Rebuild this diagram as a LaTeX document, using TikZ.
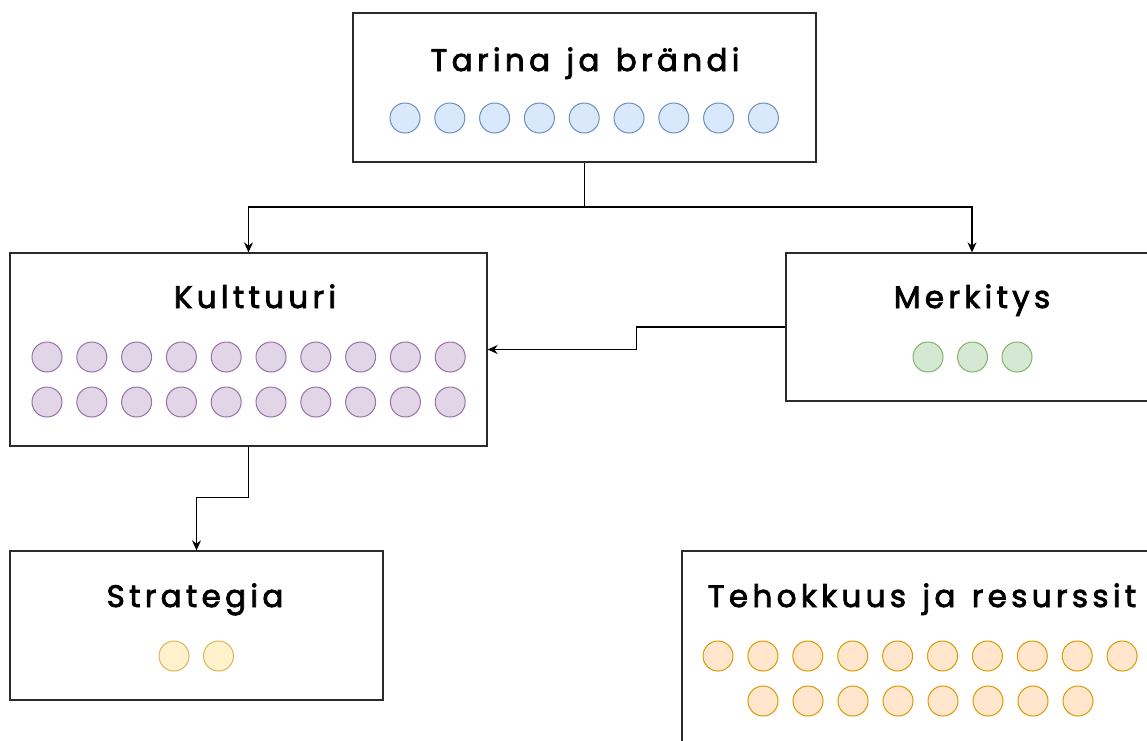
\documentclass[tikz,border=0pt]{standalone}
\usepackage{fontspec}
\setmainfont{Poppins}
\newfontfamily\ttlfont{Poppins}[LetterSpace=14,WordSpace=1.3]
% stroke + fill the glyph outlines for a medium weight
\newcommand\heavytext[1]{\special{pdf:literal direct 0.8 w 2 Tr}#1\special{pdf:literal direct 0 Tr}}
\usetikzlibrary{arrows.meta}
\definecolor{blueF}{HTML}{DAE8FC}\definecolor{blueD}{HTML}{6C8EBF}
\definecolor{purpF}{HTML}{E1D5E7}\definecolor{purpD}{HTML}{9673A6}
\definecolor{greenF}{HTML}{D5E8D4}\definecolor{greenD}{HTML}{82B366}
\definecolor{yelF}{HTML}{FFF2CC}\definecolor{yelD}{HTML}{D6B656}
\definecolor{orF}{HTML}{FFE6CC}\definecolor{orD}{HTML}{D79B00}
\definecolor{edge}{HTML}{2B2B2B}
\begin{document}
\begin{tikzpicture}[x=1pt,y=-1pt,
  panel/.style={draw=edge,line width=1.3pt,fill=white,rectangle,inner sep=0pt},
  title/.style={anchor=base,inner sep=0pt,font=\fontsize{31}{33}\ttlfont},
  dot/.style={circle,inner sep=0pt,minimum size=30pt,line width=1pt},
  dotb/.style={dot,fill=blueF,draw=blueD},
  dotp/.style={dot,fill=purpF,draw=purpD},
  dotg/.style={dot,fill=greenF,draw=greenD},
  doty/.style={dot,fill=yelF,draw=yelD},
  doto/.style={dot,fill=orF,draw=orD},
  link/.style={draw=black,line width=1.3pt,-{Stealth[length=10pt,width=9pt]}}]
\useasboundingbox (0,0) rectangle (1147,740);
\begin{scope}
\clip (0,0) rectangle (1147,740);
\fill[white] (0,0) rectangle (1147,740);

% boxes
\node[panel,minimum width=463pt,minimum height=149pt] (tarina) at (584.5,87.5) {};
\node[panel,minimum width=477pt,minimum height=193pt] (kult) at (248.5,349.5) {};
\node[panel,minimum width=372pt,minimum height=148pt] (merk) at (972,327) {};
\node[panel,minimum width=373pt,minimum height=149pt] (strat) at (196.5,625.5) {};
\node[panel,minimum width=476pt,minimum height=193pt] (teho) at (920,647.5) {};

% titles
\node[title] (tTarina) at (585,71) {\heavytext{Tarina ja brändi}};
\node[title] (tKult) at (255,308) {\heavytext{Kulttuuri}};
\node[title] (tMerk) at (972,308) {\heavytext{Merkitys}};
\node[title] (tStrat) at (195,607) {\heavytext{Strategia}};
\node[title] (tTeho) at (922,607) {\heavytext{Tehokkuus ja resurssit}};

% dots
\foreach \i in {0,...,8} \node[dotb] (b\i) at (405+44.8*\i,118) {};
\foreach \i in {0,...,9} {
  \node[dotp] (pa\i) at (47+44.8*\i,357) {};
  \node[dotp] (pb\i) at (47+44.8*\i,402) {};
}
\foreach \i in {0,...,2} \node[dotg] (g\i) at (928+44.5*\i,357) {};
\foreach \i in {0,...,1} \node[doty] (y\i) at (174+44.5*\i,656) {};
\foreach \i in {0,...,9} \node[doto] (oa\i) at (718+44.9*\i,656) {};
\foreach \i in {0,...,7} \node[doto] (ob\i) at (763+45*\i,701) {};

% connectors
\coordinate (split) at (584.5,207);
\draw[line width=1.3pt] (tarina.south) -- (split);
\draw[link] (split) -| (kult.north);
\draw[link] (split) -| (merk.north);
\draw[link] (merk.west) -- ++(-149,0) |- (kult.east);
\draw[link] (kult.south) -- ++(0,51) -| (strat.north);
\end{scope}
\end{tikzpicture}
\end{document}
